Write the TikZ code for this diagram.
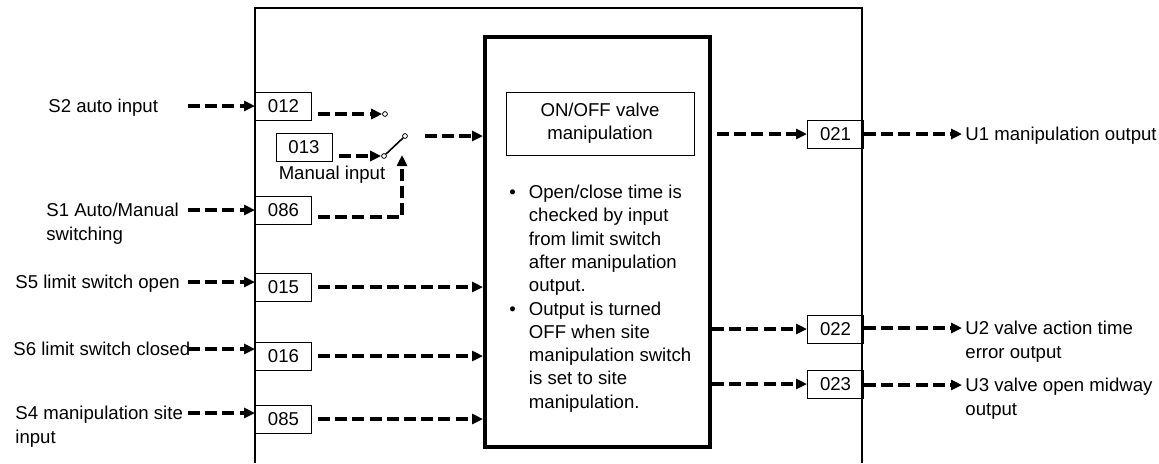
\documentclass[tikz,border=0pt]{standalone}
\usepackage{fontspec}
\setmainfont{Liberation Sans}
\usetikzlibrary{arrows.meta, positioning, calc}
\newcommand{\lblrows}[1]{\begin{tabular}[t]{@{}l@{}}#1\end{tabular}}

\begin{document}
\begin{tikzpicture}[x=0.5pt, y=-0.5pt, font=\fontsize{9.3}{11.65}\selectfont,
  flow/.style={dash pattern=on 6pt off 2.6pt, line width=1.7pt,
               -{Triangle[length=5.5pt,width=5pt]}},
  iobox/.style={draw, line width=0.5pt, minimum width=28pt,
                minimum height=14pt, inner sep=0pt},
  contact/.style={circle, draw, line width=0.4pt, fill=white,
                  inner sep=0pt, minimum size=2.4pt},
  lbl/.style={inner sep=0pt}]
  \useasboundingbox (0,0) rectangle (1159,463);
  % frame, open at the bottom
  \draw[line width=0.6pt] (255,463) |- (862,8) -- (862,463);
  % function block
  \node[draw, line width=2pt, minimum width=112.5pt, minimum height=205pt,
        inner sep=0pt] (fn) at (597.5,242) {};
  \node[draw, line width=0.5pt, minimum width=94pt, minimum height=31.5pt,
        align=center] (ttl) at (600,123.5) {ON/OFF valve\\manipulation};
  \node[lbl, anchor=base west] (notes) at (509,198.5)
    {\begin{tabular}[t]{@{}l@{\hspace{6.5pt}}l@{}}
      \textbullet & Open/close time is\\ & checked by input\\
      & from limit switch\\ & after manipulation\\ & output.\\
      \textbullet & Output is turned\\ & OFF when site\\
      & manipulation switch\\ & is set to site\\ & manipulation.
    \end{tabular}};
  % terminal boxes
  \node[iobox] (b012) at (283.5,106) {012};
  \node[iobox] (b013) at (304,147) {013};
  \node[iobox] (b086) at (283.5,210) {086};
  \node[iobox] (b015) at (283.5,287) {015};
  \node[iobox] (b016) at (283.5,356) {016};
  \node[iobox] (b085) at (283.5,419) {085};
  \node[iobox] (b021) at (835.5,134) {021};
  \node[iobox] (b022) at (835.5,329) {022};
  \node[iobox] (b023) at (835.5,384) {023};
  \node[lbl] (lman) at (332,175) {Manual input};
  % auto/manual switch
  \node[contact] (swA) at (385,114) {};
  \node[contact] (swM) at (384,156) {};
  \node[contact] (swO) at (405,136) {};
  \coordinate (swP) at (402,155);
  \draw[line width=0.8pt] (swM.north east) -- (swO.south west);
  \draw[flow, shorten <=3pt] (b012.east |- swA) -- (swA.west);
  \draw[flow, shorten <=3pt] (b013.east |- swM) -- (swM.west);
  \draw[flow, shorten <=3pt] ([yshift=-3.5pt]b086.east) -| (swP);
  \draw[flow, shorten <=8.5pt] (swO) -- (swO -| fn.west);
  % inputs
  \foreach \id/\lx/\ay/\txt in {012/48/106/{S2 auto input},
      086/46/210/{S1 Auto/Manual\\switching},
      015/15/282/{S5 limit switch open},
      016/13/349/{S6 limit switch closed},
      085/15/413/{S4 manipulation site\\input}}{%
    \node[lbl, anchor=base west] (l\id) at (\lx,\ay+6.7) {\lblrows{\txt}};
    \coordinate (s\id) at (188,\ay);
    \draw[flow] (s\id) -- (s\id -| b\id.west);}
  \foreach \id in {015,016,085}{%
    \draw[flow, shorten <=3pt] (b\id.east) -- (b\id.east -| fn.west);}
  % outputs
  \draw[flow, shorten <=2.5pt] (fn.east |- b021) -- (b021.west);
  \draw[flow] (fn.east |- b022) -- (b022.west);
  \draw[flow] (fn.east |- b023) -- (b023.west);
  \foreach \id/\ay/\txt in {021/134/{U1 manipulation output},
      022/328/{U2 valve action time\\error output},
      023/385/{U3 valve open midway\\output}}{%
    \coordinate (e\id) at (962,\ay);
    \draw[flow] (b\id.east |- e\id) -- (e\id);
    \node[lbl, anchor=base west] (u\id) at (965,\ay+6.7) {\lblrows{\txt}};}
\end{tikzpicture}
\end{document}
